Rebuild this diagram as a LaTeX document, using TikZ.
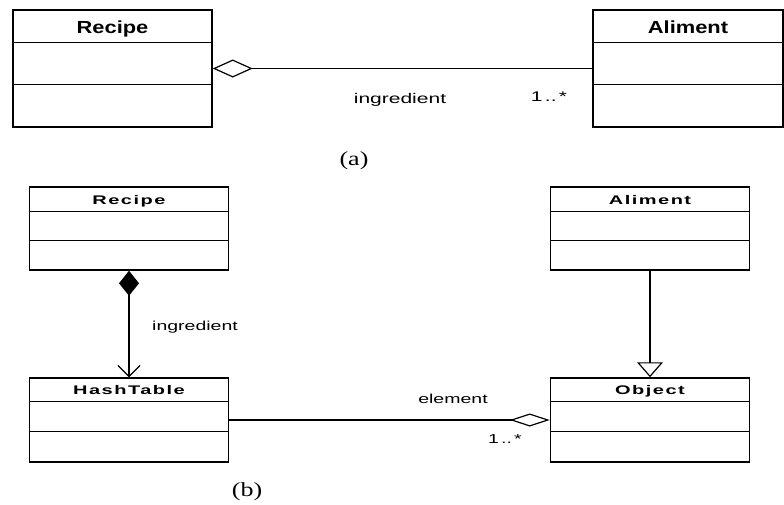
\documentclass[tikz,border=0pt]{standalone}
\usepackage{fontspec}
\setmainfont{Liberation Serif}
\newfontfamily\umlTitleA[FakeStretch=1.25]{Liberation Sans}
\newfontfamily\umlTitleB[FakeStretch=1.6,LetterSpace=12]{Liberation Sans}
\newfontfamily\umlLabel[FakeStretch=1.5]{Liberation Sans}
\newfontfamily\capFont[FakeStretch=1.3]{Liberation Serif}
\usetikzlibrary{arrows.meta}

\begin{document}
\begin{tikzpicture}[x=1pt, y=-1pt,
    classbox/.style={draw, rectangle, line width=1.5pt, minimum width=199pt, inner sep=0pt},
    divider/.style={line width=1pt},
    assoc/.style={line width=1.2pt},
    titleA/.style={font=\umlTitleA\bfseries\fontsize{17.5}{20}\selectfont, inner sep=0pt, anchor=base},
    titleB/.style={font=\umlTitleB\bfseries\fontsize{12.5}{14}\selectfont, inner sep=0pt, anchor=base},
    labelA/.style={font=\umlLabel\fontsize{14}{16}\selectfont, inner sep=0pt, anchor=base},
    labelB/.style={font=\umlLabel\fontsize{13}{15}\selectfont, inner sep=0pt, anchor=base},
    caption/.style={font=\capFont\fontsize{20}{24}\selectfont, inner sep=0pt}]
  \useasboundingbox (0,0) rectangle (784,504);
  % (a)
  \node[classbox, minimum height=117pt] (recipeA) at (112.5,68.5) {};
  \node[titleA] (recipeAtitle) at ([yshift=-24pt]recipeA.north) {Recipe};
  \draw[divider] ([yshift=-33pt]recipeA.north west) -- ([yshift=-33pt]recipeA.north east);
  \draw[divider] ([yshift=-75pt]recipeA.north west) -- ([yshift=-75pt]recipeA.north east);
  \node[classbox, minimum width=190pt, minimum height=117pt] (alimentA) at (688,68.5) {};
  \node[titleA] (alimentAtitle) at ([yshift=-24pt]alimentA.north) {Aliment};
  \draw[divider] ([yshift=-33pt]alimentA.north west) -- ([yshift=-33pt]alimentA.north east);
  \draw[divider] ([yshift=-75pt]alimentA.north west) -- ([yshift=-75pt]alimentA.north east);
  \draw[assoc, {Diamond[open, length=40pt, width=18pt]}-] (recipeA) -- (alimentA);
  \node[labelA] (ingredientA) at (400,103) {ingredient};
  \node[labelA] (multA) at (549,101) {1\,..\,*};
  \node[caption] (capA) at (354,161) {(a)};
  % (b)
  \node[classbox, minimum height=83pt] (recipeB) at (129,228.5) {};
  \node[titleB] (recipeBtitle) at ([yshift=-18pt]recipeB.north) {Recipe};
  \draw[divider] ([yshift=-25pt]recipeB.north west) -- ([yshift=-25pt]recipeB.north east);
  \draw[divider] ([yshift=-54pt]recipeB.north west) -- ([yshift=-54pt]recipeB.north east);
  \node[classbox, minimum height=84pt] (hashB) at (129,420) {};
  \node[titleB] (hashBtitle) at ([yshift=-17.5pt]hashB.north) {HashTable};
  \draw[divider] ([yshift=-24pt]hashB.north west) -- ([yshift=-24pt]hashB.north east);
  \draw[divider] ([yshift=-54pt]hashB.north west) -- ([yshift=-54pt]hashB.north east);
  \node[classbox, minimum height=83pt] (alimentB) at (650,228.5) {};
  \node[titleB] (alimentBtitle) at ([yshift=-18pt]alimentB.north) {Aliment};
  \draw[divider] ([yshift=-25pt]alimentB.north west) -- ([yshift=-25pt]alimentB.north east);
  \draw[divider] ([yshift=-54pt]alimentB.north west) -- ([yshift=-54pt]alimentB.north east);
  \node[classbox, minimum height=84pt] (objectB) at (650,420) {};
  \node[titleB] (objectBtitle) at ([yshift=-17.5pt]objectB.north) {Object};
  \draw[divider] ([yshift=-24pt]objectB.north west) -- ([yshift=-24pt]objectB.north east);
  \draw[divider] ([yshift=-54pt]objectB.north west) -- ([yshift=-54pt]objectB.north east);
  \draw[assoc, {Diamond[length=25pt, width=20pt]}-{Straight Barb[length=11pt, width=22pt]}] (recipeB) -- (hashB);
  \draw[assoc, -{Triangle[open, length=15pt, width=26pt]}] (alimentB) -- (objectB);
  \draw[assoc, -{Diamond[open, length=40pt, width=13pt]}] (hashB) -- (objectB);
  \node[labelB] (ingredientB) at (195,330) {ingredient};
  \node[labelB] (elementB) at (453,403) {element};
  \node[labelB] (multB) at (505,443) {1\,..\,*};
  \node[caption] (capB) at (247,492) {(b)};
\end{tikzpicture}
\end{document}
